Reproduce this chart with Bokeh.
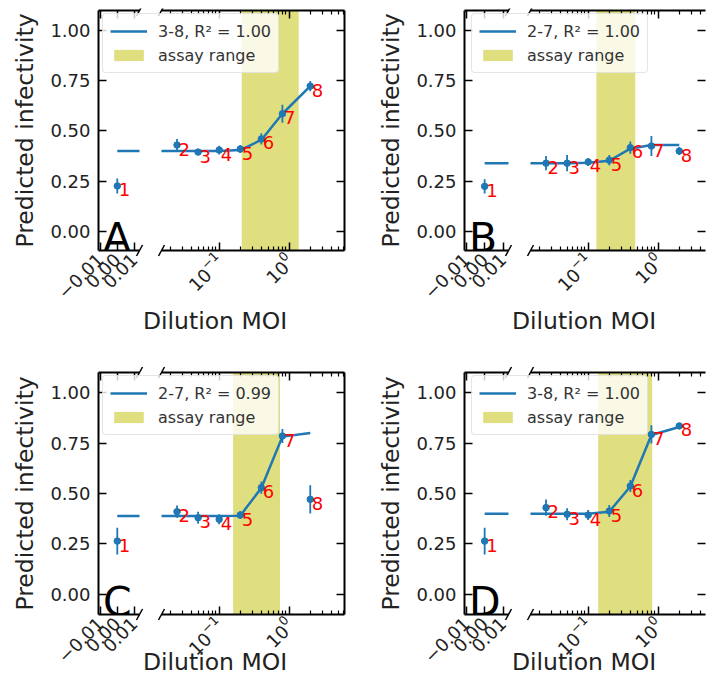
import math
from bokeh.plotting import figure
from bokeh.models import (Range1d, LinearAxis, LogAxis, FixedTicker, LogTickFormatter,
                          CustomJSTickFormatter, Label, Legend, LegendItem, Arrow)
from bokeh.core.properties import value
from bokeh.embed import file_html
from bokeh.resources import INLINE

# ---------------- data ----------------
MOI = [0.0, 0.025, 0.05, 0.1, 0.2, 0.4, 0.8, 2.0]
POINT_LABELS = ["1", "2", "3", "4", "5", "6", "7", "8"]

Y_A = [0.227, 0.43, 0.395, 0.405, 0.41, 0.46, 0.585, 0.722]
ERR_A = [0.037, 0.03, 0.015, 0.022, 0.02, 0.028, 0.045, 0.025]
FIT_A = [0.40, 0.40, 0.40, 0.40, 0.405, 0.455, 0.585, 0.722]
ASSAY_A = [0.21, 1.37]

Y_B = [0.225, 0.34, 0.34, 0.346, 0.355, 0.417, 0.425, 0.40]
ERR_B = [0.035, 0.035, 0.04, 0.02, 0.025, 0.03, 0.05, 0.02]
FIT_B = [0.34, 0.34, 0.34, 0.342, 0.352, 0.412, 0.43, 0.43]
ASSAY_B = [0.131, 0.47]

Y_C = [0.264, 0.41, 0.38, 0.372, 0.393, 0.529, 0.785, 0.471]
ERR_C = [0.066, 0.03, 0.03, 0.025, 0.02, 0.03, 0.035, 0.07]
FIT_C = [0.388, 0.388, 0.388, 0.388, 0.39, 0.527, 0.782, 0.80]
ASSAY_C = [0.158, 0.74]

Y_D = [0.264, 0.43, 0.397, 0.393, 0.413, 0.537, 0.793, 0.835]
ERR_D = [0.066, 0.04, 0.03, 0.025, 0.03, 0.03, 0.045, 0.01]
FIT_D = [0.40, 0.40, 0.40, 0.40, 0.41, 0.535, 0.79, 0.83]
ASSAY_D = [0.139, 0.82]

PANEL_LETTERS = ["A", "B", "C", "D"]
FIT_LABELS = ["3-8, R\u00b2 = 1.00", "2-7, R\u00b2 = 1.00",
              "2-7, R\u00b2 = 0.99", "3-8, R\u00b2 = 1.00"]
ASSAY_LABEL = "assay range"
X_LABEL = "Dilution MOI"
Y_LABEL = "Predicted infectivity"

Y_TICKS = [0.0, 0.25, 0.5, 0.75, 1.0]
SMALL_X_TICKS = [-0.01, 0.0, 0.01]
LOG_MAJOR_TICKS = [0.1, 1.0]
LOG_MINOR_TICKS = [0.02, 0.03, 0.04, 0.05, 0.06, 0.07, 0.08, 0.09,
                   0.2, 0.3, 0.4, 0.5, 0.6, 0.7, 0.8, 0.9,
                   2.0, 3.0, 4.0, 5.0, 6.0]

PANELS = [
    dict(y=Y_A, err=ERR_A, fit=FIT_A, assay=ASSAY_A),
    dict(y=Y_B, err=ERR_B, fit=FIT_B, assay=ASSAY_B),
    dict(y=Y_C, err=ERR_C, fit=FIT_C, assay=ASSAY_C),
    dict(y=Y_D, err=ERR_D, fit=FIT_D, assay=ASSAY_D),
]

# ---------------- layout / style (page pixels) ----------------
W, H = 698, 672
ORIGIN = 8
COLS = [dict(small=(95, 139), log=(161, 344), log_range=(0.015, 6.17), xlabel_cx=214.5,
             right_spine=True),
        dict(small=(464, 508), log=(530, 705), log_range=(0.015, 4.74), xlabel_cx=583.5,
             right_spine=False)]
ROWS = [dict(frame=(10, 250), y_range=(-0.093, 1.097), xlabel_base=320),
        dict(frame=(372, 614), y_range=(-0.1, 1.1), xlabel_base=661)]
SMALL_RANGE = (-0.011, 0.013)
LEGEND_OFFSET = (7, 5)       # legend top-left relative to small frame top-left
LEGEND_H = 58

BLUE = "#1f77b4"
ASSAY_COLOR = "#bfbf00"
FONT = "DejaVu Sans"
TEXT_COLOR = "#222222"
NAN = float("nan")


def place(fig):
    fig.styles = {"position": "absolute", "left": f"{ORIGIN}px", "top": f"{ORIGIN}px"}
    return fig


def make_fig(xl, xr, yt, yb, x_range, y_range, log):
    fig = figure(width=W, height=H,
                 x_range=Range1d(*x_range), y_range=Range1d(*y_range),
                 x_axis_type="log" if log else "linear",
                 x_axis_location=None, y_axis_location=None,
                 toolbar_location=None, output_backend="svg", title=None,
                 min_border_left=xl - ORIGIN, min_border_right=ORIGIN + W - xr,
                 min_border_top=yt - ORIGIN, min_border_bottom=ORIGIN + H - yb)
    fig.outline_line_color = None
    fig.border_fill_alpha = 0
    fig.background_fill_alpha = 0
    fig.grid.visible = False
    return place(fig)


def style_axis(ax, labels=True):
    ax.axis_line_color = "black"
    ax.axis_line_width = 2
    ax.major_tick_in = 8
    ax.major_tick_out = 0
    ax.minor_tick_in = 4
    ax.minor_tick_out = 0
    ax.major_tick_line_color = "black"
    ax.major_tick_line_width = 1.5
    ax.minor_tick_line_color = "black"
    ax.minor_tick_line_width = 1.2
    ax.major_label_text_font = FONT
    ax.major_label_text_font_size = "18px"
    ax.major_label_text_color = TEXT_COLOR
    if not labels:
        ax.formatter = CustomJSTickFormatter(code="return ''")
        ax.major_label_standoff = 0
        ax.major_label_text_color = None
    return ax


def points(pdata, keep):
    idx = [i for i, m in enumerate(MOI) if keep(m)]
    xs = [MOI[i] for i in idx]
    ys = [pdata["y"][i] for i in idx]
    lo = [pdata["y"][i] - pdata["err"][i] for i in idx]
    hi = [pdata["y"][i] + pdata["err"][i] for i in idx]
    labs = [POINT_LABELS[i] for i in idx]
    return xs, ys, lo, hi, labs


def draw_points(fig, xs, ys, lo, hi, labs):
    fig.segment(xs, lo, xs, hi, line_width=1.8, color=BLUE)
    fig.scatter(xs, ys, size=6.5, color=BLUE)
    fig.text(xs, ys, text=labs, x_offset=1.5, y_offset=4,
             text_font=value(FONT), text_font_size="18px", text_color="red",
             text_align="left", text_baseline="alphabetic")


# overlay covering the whole page: legends, x labels, axis-break marks
overlay = figure(width=W, height=H, x_range=Range1d(0, W), y_range=Range1d(0, H),
                 x_axis_location=None, y_axis_location=None, toolbar_location=None,
                 output_backend="svg", title=None,
                 min_border_left=0, min_border_right=0, min_border_top=0, min_border_bottom=0)
overlay.outline_line_color = None
overlay.border_fill_alpha = 0
overlay.background_fill_alpha = 0
overlay.grid.visible = False
place(overlay)


def sx(px):
    return px - ORIGIN


def sy(py):
    return ORIGIN + H - py


def break_mark(px, py):
    overlay.add_layout(Arrow(end=None, x_start=sx(px) - 3, y_start=sy(py) - 5.5,
                             x_end=sx(px) + 3, y_end=sy(py) + 5.5,
                             start_units="screen", end_units="screen",
                             line_color="black", line_width=1.5))


figs = []
for idx, pdata in enumerate(PANELS):
    row = ROWS[idx // 2]
    col = COLS[idx % 2]
    yt, yb = row["frame"]
    y_lo, y_hi = row["y_range"]

    # ---------- small linear axis (MOI = 0) ----------
    sl, sr = col["small"]
    fs = make_fig(sl, sr, yt, yb, SMALL_RANGE, row["y_range"], log=False)
    left = style_axis(LinearAxis(ticker=FixedTicker(ticks=Y_TICKS),
                                 formatter=CustomJSTickFormatter(code="return tick.toFixed(2)")))
    left.major_label_standoff = 8
    left.axis_label = Y_LABEL
    left.axis_label_text_font = FONT
    left.axis_label_text_font_size = "23.5px"
    left.axis_label_text_font_style = "normal"
    left.axis_label_text_color = TEXT_COLOR
    left.axis_label_standoff = 8
    fs.add_layout(left, "left")
    bottom = style_axis(LinearAxis(
        ticker=FixedTicker(ticks=SMALL_X_TICKS),
        formatter=CustomJSTickFormatter(
            code="return (tick < 0 ? '\u2212' : '') + Math.abs(tick).toFixed(2)")))
    bottom.major_label_orientation = math.pi / 4
    bottom.major_label_standoff = 6
    fs.add_layout(bottom, "below")
    top = style_axis(LinearAxis(ticker=FixedTicker(ticks=SMALL_X_TICKS)), labels=False)
    fs.add_layout(top, "above")

    fs.line(MOI[:2], pdata["fit"][:2], line_width=2.5, color=BLUE)
    draw_points(fs, *points(pdata, lambda m: m == 0))
    fs.add_layout(Label(x=4.5, y=13, x_units="screen", y_units="screen",
                        text=PANEL_LETTERS[idx], text_font=FONT, text_font_size="41px",
                        text_color="black", text_align="left", text_baseline="alphabetic"))
    figs.append(fs)

    # ---------- log axis ----------
    ll, lr = col["log"]
    fl = make_fig(ll, lr, yt, yb, col["log_range"], row["y_range"], log=True)
    lbottom = style_axis(LogAxis(ticker=FixedTicker(ticks=LOG_MAJOR_TICKS,
                                                    minor_ticks=LOG_MINOR_TICKS),
                                 formatter=LogTickFormatter()))
    lbottom.major_label_orientation = math.pi / 4
    lbottom.major_label_standoff = 6
    fl.add_layout(lbottom, "below")
    ltop = style_axis(LogAxis(ticker=FixedTicker(ticks=LOG_MAJOR_TICKS,
                                                 minor_ticks=LOG_MINOR_TICKS)), labels=False)
    fl.add_layout(ltop, "above")
    lright = style_axis(LinearAxis(ticker=FixedTicker(ticks=Y_TICKS)), labels=False)
    if not col["right_spine"]:
        lright.axis_line_color = None   # spine falls on the cropped page edge
    fl.add_layout(lright, "right")

    a0, a1 = pdata["assay"]
    fl.quad(left=[a0], right=[a1], bottom=[y_lo], top=[y_hi],
            fill_color=ASSAY_COLOR, fill_alpha=0.5, line_color=None)
    # MOI = 0 cannot be shown on a log scale: clip it far beyond the left edge
    fit_x = [m if m > 0 else 1e-4 for m in MOI]
    fl.line(fit_x, pdata["fit"], line_width=2.5, color=BLUE)
    draw_points(fl, *points(pdata, lambda m: m > 0))
    figs.append(fl)

    # ---------- overlay items for this panel ----------
    key_line = overlay.line([NAN], [NAN], line_width=2.5, color=BLUE)
    key_box = overlay.quad(left=[NAN], right=[NAN], bottom=[NAN], top=[NAN],
                           fill_color=ASSAY_COLOR, fill_alpha=0.5, line_color=None)
    lx = sl + LEGEND_OFFSET[0]
    ly_bottom = yt + LEGEND_OFFSET[1] + LEGEND_H
    legend = Legend(items=[LegendItem(label=FIT_LABELS[idx], renderers=[key_line]),
                           LegendItem(label=ASSAY_LABEL, renderers=[key_box])],
                    location=(sx(lx), sy(ly_bottom)), padding=7, spacing=4, margin=0,
                    glyph_width=37, glyph_height=14, label_standoff=11,
                    label_height=20,
                    label_text_font=FONT, label_text_font_size="16px",
                    label_text_color="#333333",
                    border_line_color="#cccccc", border_line_width=1,
                    background_fill_color="white", background_fill_alpha=0.8)
    try:
        legend.border_radius = 4
    except Exception:
        pass
    overlay.add_layout(legend)
    overlay.add_layout(Label(x=sx(col["xlabel_cx"]), y=sy(row["xlabel_base"]),
                             x_units="screen", y_units="screen",
                             text=X_LABEL, text_font=FONT, text_font_size="23.5px",
                             text_color=TEXT_COLOR, text_align="center",
                             text_baseline="alphabetic"))
    for bx in (sr, ll):
        break_mark(bx, yt)
        break_mark(bx, yb)

figs.append(overlay)

with open("out.html", "w") as fh_out:
    fh_out.write(file_html(figs, INLINE, "Predicted infectivity"))
